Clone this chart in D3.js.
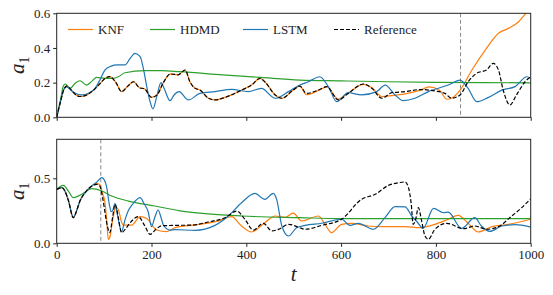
<!DOCTYPE html>
<html lang="en">
  <head>
    <meta charset="UTF-8" />
    <title>a1 forecasts</title>
    <script src="https://d3js.org/d3.v7.min.js"></script>
    <style>
      body { margin: 0; background: #fff; }
      .domain, .tick line { stroke: #222; }
    </style>
  </head>
  <body>
    <svg width="553" height="295"></svg>
    <script>
      // [t, a1]
      const topKNF = [[0,0],[8,0.09],[15,0.16],[21,0.18],[30,0.16],[40,0.13],[49,0.12],[60,0.125],[75,0.15],[90,0.19],[100,0.22],[112,0.235],[125,0.2],[137,0.148],[150,0.18],[162,0.205],[175,0.17],[185,0.165],[200,0.115],[212,0.13],[225,0.2],[240,0.25],[256,0.245],[271,0.273],[281,0.205],[292,0.167],[302,0.158],[320,0.11],[334,0.1],[355,0.115],[390,0.157],[411,0.186],[429,0.225],[439,0.205],[461,0.129],[475,0.11],[499,0.157],[513,0.18],[527,0.13],[552,0.155],[570,0.175],[594,0.105],[615,0.14],[647,0.19],[665,0.17],[686,0.12],[707,0.125],[735,0.135],[766,0.155],[786,0.175],[808,0.155],[823,0.104],[833,0.11],[851,0.157],[876,0.273],[904,0.388],[932,0.485],[953,0.513],[974,0.55],[990,0.6],[1000,0.63]];
      const topHDMD = [[0,0],[8,0.1],[14,0.18],[18,0.192],[28,0.167],[40,0.2],[49,0.211],[63,0.186],[75,0.21],[84,0.23],[102,0.225],[118,0.225],[130,0.234],[144,0.257],[186,0.269],[221,0.269],[260,0.263],[350,0.245],[430,0.23],[513,0.215],[600,0.21],[700,0.205],[800,0.202],[900,0.2],[1000,0.199]];
      const topLSTM = [[0,0],[8,0.09],[15,0.16],[21,0.175],[35,0.145],[53,0.129],[68,0.14],[81,0.167],[92,0.22],[102,0.273],[115,0.295],[127,0.302],[144,0.302],[155,0.34],[165,0.369],[176,0.35],[183,0.28],[190,0.177],[197,0.09],[203,0.048],[211,0.119],[220,0.2],[228,0.157],[239,0.096],[248,0.13],[258,0.148],[278,0.1],[302,0.138],[334,0.148],[369,0.161],[404,0.148],[432,0.167],[461,0.11],[489,0.148],[513,0.186],[531,0.205],[555,0.234],[573,0.177],[591,0.09],[615,0.142],[643,0.129],[675,0.148],[693,0.186],[714,0.129],[731,0.096],[756,0.11],[784,0.148],[826,0.186],[851,0.215],[868,0.167],[886,0.09],[911,0.115],[939,0.157],[967,0.177],[992,0.234],[1000,0.225]];
      const topRef = [[0,0],[8,0.09],[15,0.16],[21,0.18],[30,0.16],[40,0.13],[49,0.12],[60,0.125],[75,0.15],[90,0.19],[100,0.22],[112,0.235],[125,0.2],[137,0.148],[150,0.18],[162,0.205],[175,0.17],[185,0.165],[200,0.115],[212,0.13],[225,0.2],[240,0.25],[256,0.245],[271,0.273],[281,0.205],[292,0.167],[302,0.158],[320,0.11],[334,0.1],[355,0.115],[390,0.157],[411,0.186],[429,0.225],[439,0.205],[461,0.129],[475,0.11],[499,0.157],[513,0.18],[527,0.138],[552,0.157],[570,0.177],[594,0.1],[615,0.138],[647,0.192],[665,0.167],[686,0.11],[707,0.142],[735,0.148],[766,0.16],[798,0.152],[819,0.138],[833,0.11],[851,0.129],[868,0.205],[886,0.254],[907,0.273],[921,0.311],[932,0.273],[942,0.157],[956,0.071],[970,0.129],[988,0.205],[1000,0.234]];

      const botKNF = [[0,0.415],[11,0.428],[20,0.38],[25,0.325],[35,0.197],[42,0.25],[49,0.325],[60,0.39],[74,0.44],[84,0.46],[91,0.45],[97,0.38],[102,0.31],[106,0.15],[109,0.03],[113,0.06],[118,0.18],[125,0.275],[130,0.26],[137,0.16],[141,0.14],[158,0.14],[176,0.205],[190,0.19],[211,0.102],[232,0.09],[250,0.12],[300,0.145],[340,0.17],[369,0.205],[390,0.133],[411,0.087],[439,0.158],[461,0.21],[482,0.2],[499,0.232],[517,0.172],[552,0.21],[566,0.146],[580,0.082],[601,0.146],[622,0.154],[657,0.133],[686,0.128],[735,0.128],[766,0.12],[798,0.146],[826,0.185],[847,0.215],[868,0.154],[889,0.087],[918,0.128],[953,0.146],[1000,0.185]];
      const botHDMD = [[0,0.415],[14,0.446],[25,0.4],[35,0.351],[53,0.377],[74,0.42],[95,0.402],[116,0.364],[151,0.325],[207,0.287],[260,0.25],[320,0.226],[390,0.21],[513,0.197],[600,0.19],[800,0.19],[1000,0.19]];
      const botLSTM = [[0,0.415],[11,0.428],[20,0.38],[25,0.325],[35,0.197],[42,0.25],[49,0.325],[60,0.39],[74,0.44],[84,0.47],[95,0.505],[100,0.49],[105,0.44],[111,0.3],[115,0.243],[119,0.26],[123,0.308],[128,0.22],[137,0.09],[144,0.18],[151,0.25],[160,0.3],[176,0.351],[185,0.3],[193,0.243],[200,0.128],[207,0.2],[214,0.256],[220,0.2],[225,0.141],[239,0.102],[250,0.105],[292,0.1],[334,0.138],[362,0.21],[390,0.312],[418,0.384],[439,0.338],[457,0.384],[464,0.338],[475,0.133],[489,0.056],[506,0.12],[524,0.138],[559,0.154],[601,0.185],[619,0.138],[636,0.154],[668,0.108],[693,0.2],[714,0.282],[735,0.28],[749,0.21],[760,0.166],[773,0.115],[795,0.269],[816,0.235],[826,0.24],[854,0.115],[882,0.197],[896,0.133],[914,0.092],[939,0.133],[967,0.143],[1000,0.125]];
      const botRef = [[0,0.415],[11,0.428],[20,0.38],[25,0.325],[35,0.197],[42,0.25],[49,0.325],[60,0.39],[74,0.44],[84,0.454],[91,0.44],[97,0.35],[102,0.235],[107,0.13],[112,0.082],[118,0.2],[123,0.3],[127,0.26],[130,0.197],[137,0.082],[145,0.11],[155,0.158],[172,0.205],[185,0.14],[197,0.069],[210,0.11],[221,0.135],[250,0.138],[285,0.14],[320,0.164],[355,0.197],[380,0.248],[397,0.185],[415,0.102],[436,0.154],[454,0.095],[470,0.11],[489,0.146],[513,0.12],[524,0.108],[559,0.138],[601,0.185],[643,0.338],[672,0.377],[700,0.446],[721,0.466],[735,0.472],[742,0.43],[748,0.3],[752,0.146],[757,0.18],[763,0.274],[770,0.17],[777,0.056],[784,0.031],[798,0.108],[823,0.154],[858,0.112],[882,0.133],[907,0.108],[932,0.128],[960,0.21],[981,0.274],[1000,0.343]];

      const xTicks = [0, 200, 400, 600, 800, 1000];
      const topYTicks = [0, 0.2, 0.4, 0.6];
      const botYTicks = [0, 0.5];
      const splitTop = 852, splitBot = 93;

      const legendNames = ["KNF", "HDMD", "LSTM", "Reference"];
      const colors = { KNF: "#ff7f0e", HDMD: "#2ca02c", LSTM: "#1f77b4", Reference: "#000" };

      const serif = "Liberation Serif, Times New Roman, DejaVu Serif, serif";
      const svg = d3.select("svg");
      const left = 56.7, right = 530.7;

      const x = d3.scaleLinear().domain([0, 1000]).range([left, right]);

      const panels = [
        { top: 13.3, bottom: 117.3, ymax: 0.6, ticks: topYTicks, split: splitTop, labels: false,
          series: [["KNF", topKNF], ["HDMD", topHDMD], ["LSTM", topLSTM], ["Reference", topRef]] },
        { top: 139.3, bottom: 243.3, ymax: 0.8, ticks: botYTicks, split: splitBot, labels: true,
          series: [["KNF", botKNF], ["HDMD", botHDMD], ["LSTM", botLSTM], ["Reference", botRef]] }
      ];

      panels.forEach(function (p, i) {
        const y = d3.scaleLinear().domain([0, p.ymax]).range([p.bottom, p.top]);
        const g = svg.append("g");

        g.append("clipPath").attr("id", "clip" + i)
          .append("rect").attr("x", left).attr("y", p.top)
          .attr("width", right - left).attr("height", p.bottom - p.top);

        const line = d3.line()
          .x(function (d) { return x(d[0]); })
          .y(function (d) { return y(d[1]); })
          .curve(d3.curveMonotoneX);

        const plot = g.append("g").attr("clip-path", "url(#clip" + i + ")");

        plot.append("line")
          .attr("x1", x(p.split)).attr("x2", x(p.split))
          .attr("y1", p.top).attr("y2", p.bottom)
          .attr("stroke", "#888").attr("stroke-width", 1)
          .attr("stroke-dasharray", "4,2.5");

        p.series.forEach(function (s) {
          plot.append("path")
            .datum(s[1])
            .attr("fill", "none")
            .attr("stroke", colors[s[0]])
            .attr("stroke-width", 1.2)
            .attr("stroke-dasharray", s[0] === "Reference" ? "4,2" : null)
            .attr("d", line);
        });

        const xAxis = d3.axisBottom(x).tickValues(xTicks).tickSize(3.5).tickPadding(3)
          .tickFormat(p.labels ? d3.format("d") : "");
        g.append("g").attr("transform", "translate(0," + p.bottom + ")").call(xAxis)
          .call(function (a) { a.select(".domain").remove(); });

        g.append("g").attr("transform", "translate(" + left + ",0)")
          .call(d3.axisLeft(y).tickValues(p.ticks).tickFormat(d3.format(".1f")).tickSize(3.5).tickPadding(3))
          .call(function (a) { a.select(".domain").remove(); });

        g.append("rect")
          .attr("x", left).attr("y", p.top)
          .attr("width", right - left).attr("height", p.bottom - p.top)
          .attr("fill", "none").attr("stroke", "#222").attr("stroke-width", 1);

        const lab = g.append("text")
          .attr("transform", "translate(24," + ((p.top + p.bottom) / 2) + ") rotate(-90)")
          .attr("text-anchor", "middle")
          .attr("font-size", 21);
        lab.append("tspan").attr("font-style", "italic").text("a");
        lab.append("tspan").attr("dy", 5).attr("font-size", 14).text("1");
      });

      svg.append("text")
        .attr("x", x(500)).attr("y", 281)
        .attr("text-anchor", "middle")
        .attr("font-size", 21).attr("font-style", "italic")
        .text("t");

      // legend, inside top panel
      const legendX = [68, 150, 243, 334];
      const legend = svg.append("g");
      legendNames.forEach(function (name, i) {
        legend.append("line")
          .attr("x1", legendX[i]).attr("x2", legendX[i] + 25)
          .attr("y1", 29.5).attr("y2", 29.5)
          .attr("stroke", colors[name]).attr("stroke-width", 1.2)
          .attr("stroke-dasharray", name === "Reference" ? "4,2" : null);
        legend.append("text")
          .attr("x", legendX[i] + 30).attr("y", 34)
          .attr("font-size", 13)
          .text(name);
      });

      // one serif face for every label, axes included
      svg.selectAll("text")
        .style("font-family", serif)
        .style("fill", "#222");
      svg.selectAll(".tick text").style("font-size", "13px");
    </script>
  </body>
</html>
